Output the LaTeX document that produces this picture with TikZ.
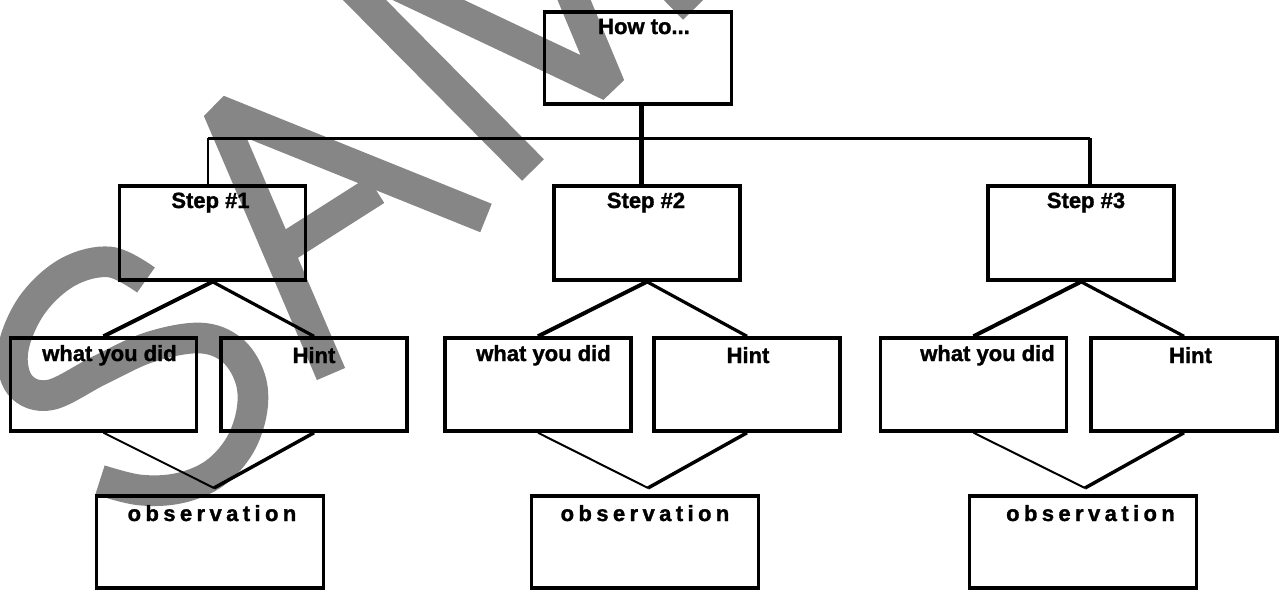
\documentclass[tikz,border=0pt]{standalone}
\usepackage{fontspec}
\setmainfont{Liberation Sans}
\usetikzlibrary{calc}
\definecolor{wmgray}{RGB}{134,134,134}

\begin{document}
\begin{tikzpicture}[x=0.75pt, y=-0.75pt,
    box/.style={draw, line width=2.6pt, minimum width=139.5pt, minimum height=69.75pt, inner sep=0pt},
    obsbox/.style={box, minimum width=170.25pt, minimum height=69pt},
    lbl/.style={anchor=base, inner sep=0pt, font=\bfseries\fontsize{16.5}{18}\selectfont\addfontfeatures{FakeBold=1.4}},
    obslbl/.style={anchor=base, inner sep=0pt, font=\bfseries\fontsize{16.5}{18}\selectfont\addfontfeatures{LetterSpace=20,FakeBold=1.4}},
    wmark/.style={wmgray, line width=23pt}]

	\useasboundingbox (0,0) rectangle (1281,590);

	% watermark behind everything
	\begin{scope}
		\clip (0,0) rectangle (1281,590);
		\draw[wmark] plot[smooth, tension=0.6] coordinates {(146,280) (110,262) (68,272) (32,305) (13,350) (20,385) (50,395) (100,370) (150,347) (200,338) (232,350) (250,378) (252,410) (240,445) (215,473) (180,488) (140,490) (100,480)};
		\draw[wmark, line join=bevel] (331,374) -- (218,110) -- (486,218);
		\draw[wmark] (288,246) -- (376,190);
		\draw[wmark, line join=bevel] (533,170) -- (308,-57) -- (610,86) -- (491,-199) -- (694,9);
	\end{scope}

	% top box
	\node[box, minimum width=140.25pt, minimum height=69pt] (how) at (638,58) {};
	\node[lbl] (howtxt) at (644,34) {How to...};

	% steps
	\node[box, minimum height=70.5pt] (s1) at (212.5,233) {};
	\node[box, minimum height=70.5pt] (s2) at (647,233) {};
	\node[box, minimum height=70.5pt] (s3) at (1081,233) {};
	\node[lbl] (s1txt) at (210.5,208) {Step \#1};
	\node[lbl] (s2txt) at (646,208) {Step \#2};
	\node[lbl] (s3txt) at (1086,208) {Step \#3};

	% what you did / hint
	\node[box] (w1) at (103.5,384.5) {};
	\node[box] (h1) at (314,384.5) {};
	\node[box] (w2) at (538,384.5) {};
	\node[box] (h2) at (747,384.5) {};
	\node[box] (w3) at (973.5,384.5) {};
	\node[box] (h3) at (1184,384.5) {};
	\node[lbl] (w1txt) at (109.5,361) {what you did};
	\node[lbl] (w2txt) at (543.5,361) {what you did};
	\node[lbl] (w3txt) at (987.5,361) {what you did};
	\node[lbl] (h1txt) at (314,363) {Hint};
	\node[lbl] (h2txt) at (748,363) {Hint};
	\node[lbl] (h3txt) at (1190.5,363) {Hint};

	% observations
	\node[obsbox] (o1) at (210,542) {};
	\node[obsbox] (o2) at (645,542) {};
	\node[obsbox] (o3) at (1083,542) {};
	\node[obslbl] (o1txt) at (212,521) {observation};
	\node[obslbl] (o2txt) at (645,521) {observation};
	\node[obslbl] (o3txt) at (1090.5,521) {observation};

	% bus
	\coordinate (busl) at (208,138.3);
	\coordinate (busm) at (641.5,138.3);
	\coordinate (busr) at (1090,138.3);
	\draw[line width=3.5pt] (how.south -| busm) -- (s2.north -| busm);
	\draw[line width=2.5pt] (busl) -- (busr);
	\draw[line width=1.7pt] (busl) -- (s1.north -| busl);
	\draw[line width=2.4pt] (busr) -- (s3.north -| busr);

	% step to children
	\draw[line width=3pt] (s1.south) -- (w1.north);
	\draw[line width=2.4pt] (s1.south) -- (h1.north);
	\draw[line width=3pt] (s2.south) -- (w2.north);
	\draw[line width=2.4pt] (s2.south) -- (h2.north);
	\draw[line width=3pt] (s3.south) -- (w3.north);
	\draw[line width=2.4pt] (s3.south) -- (h3.north);

	% children to observation
	\coordinate (j1) at (214,488);
	\coordinate (j2) at (648,488);
	\coordinate (j3) at (1085,488);
	\draw[line width=1.5pt] (w1.south) -- (j1);
	\draw[line width=2.6pt] (h1.south) -- (j1);
	\draw[line width=1.5pt] (w2.south) -- (j2);
	\draw[line width=2.6pt] (h2.south) -- (j2);
	\draw[line width=1.5pt] (w3.south) -- (j3);
	\draw[line width=2.6pt] (h3.south) -- (j3);
\end{tikzpicture}
\end{document}
